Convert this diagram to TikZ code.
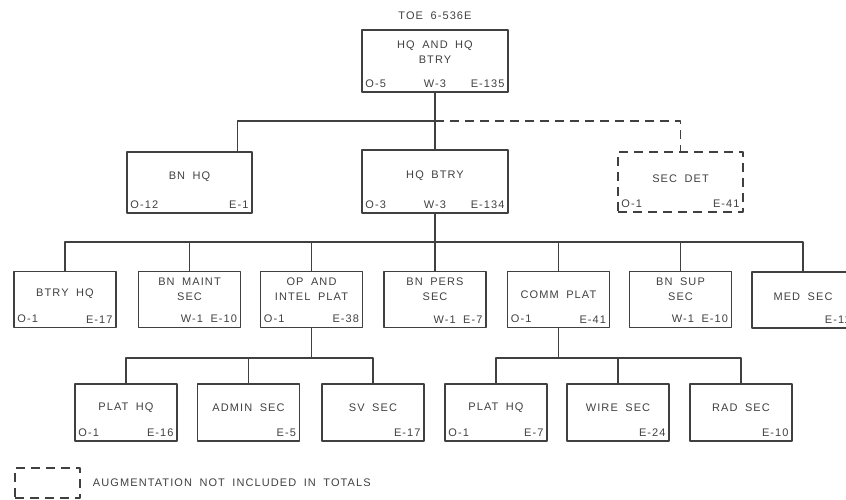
\documentclass[tikz,border=0pt]{standalone}
\usepackage{fontspec}
\newfontfamily\orgfont[LetterSpace=10,WordSpace=1.8]{Liberation Sans}
\colorlet{ink}{black!75}
\begin{document}
\begin{tikzpicture}[x=1pt,y=-1pt,line join=round,font=\orgfont\fontsize{11}{15}\selectfont,
	box/.style={draw=ink,line width=1.5pt,inner sep=0pt,minimum width=102pt,minimum height=56pt},
	big/.style={box,minimum width=146pt,minimum height=62pt},
	mid/.style={box,minimum width=125pt,minimum height=61pt},
	aug/.style={dash pattern=on 9pt off 6pt},
	link/.style={draw=ink,line width=1.2pt},
	title/.style={align=center,text=ink,inner sep=1pt},
	nl/.style={anchor=south west,text=ink,inner xsep=4pt,inner ysep=5pt},
	nr/.style={anchor=south east,text=ink,inner xsep=4pt,inner ysep=5pt},
	nm/.style={anchor=south,text=ink,inner xsep=4pt,inner ysep=5pt}]
	\useasboundingbox (0,0) rectangle (846,500);
	% top
	\node[title] (toe) at (435,16) {TOE 6-536E};
	\node[big] (hqhqbtry) at (435,61) {};
	\node[title] (hqhqbtry-t) at ([yshift=8.5pt]hqhqbtry.center) {HQ AND HQ\\BTRY};
	\node[nl] (hqhqbtry-o) at (hqhqbtry.south west) {O-5};
	\node[nm] (hqhqbtry-w) at (hqhqbtry.south) {W-3};
	\node[nr] (hqhqbtry-e) at (hqhqbtry.south east) {E-135};
	% second level
	\node[mid] (bnhq) at (189.5,182.5) {};
	\node[title] (bnhq-t) at ([yshift=6pt]bnhq.center) {BN HQ};
	\node[nl] (bnhq-o) at (bnhq.south west) {O-12};
	\node[nr] (bnhq-e) at (bnhq.south east) {E-1};
	\node[big,minimum height=63pt] (hqbtry) at (435,181.5) {};
	\node[title] (hqbtry-t) at ([yshift=6pt]hqbtry.center) {HQ BTRY};
	\node[nl] (hqbtry-o) at (hqbtry.south west) {O-3};
	\node[nm] (hqbtry-w) at (hqbtry.south) {W-3};
	\node[nr] (hqbtry-e) at (hqbtry.south east) {E-134};
	\node[mid,aug,minimum height=60pt] (secdet) at (680.5,182) {};
	\node[title] (secdet-t) at ([yshift=3pt]secdet.center) {SEC DET};
	\node[nl] (secdet-o) at (secdet.south west) {O-1};
	\node[nr] (secdet-e) at (secdet.south east) {E-41};
	% third level
	\node[box] (btryhq) at (65,299.5) {};
	\node[title] (btryhq-t) at ([yshift=6pt]btryhq.center) {BTRY HQ};
	\node[nl] (btryhq-o) at (btryhq.south west) {O-1};
	\node[nr] (btryhq-e) at (btryhq.south east) {E-17};
	\node[box] (bnmaint) at (189.5,299.5) {};
	\node[title] (bnmaint-t) at ([yshift=10pt]bnmaint.center) {BN MAINT\\SEC};
	\node[nr] (bnmaint-e) at (bnmaint.south east) {W-1 E-10};
	\node[box] (opintel) at (311.5,299.5) {};
	\node[title] (opintel-t) at ([yshift=10pt]opintel.center) {OP AND\\INTEL PLAT};
	\node[nl] (opintel-o) at (opintel.south west) {O-1};
	\node[nr] (opintel-e) at (opintel.south east) {E-38};
	\node[box] (bnpers) at (435,299.5) {};
	\node[title] (bnpers-t) at ([yshift=10pt]bnpers.center) {BN PERS\\SEC};
	\node[nr] (bnpers-e) at (bnpers.south east) {W-1 E-7};
	\node[box] (comm) at (558.5,299.5) {};
	\node[title] (comm-t) at ([yshift=5pt]comm.center) {COMM PLAT};
	\node[nl] (comm-o) at (comm.south west) {O-1};
	\node[nr] (comm-e) at (comm.south east) {E-41};
	\node[box] (bnsup) at (680.5,299.5) {};
	\node[title] (bnsup-t) at ([yshift=10pt]bnsup.center) {BN SUP\\SEC};
	\node[nr] (bnsup-e) at (bnsup.south east) {W-1 E-10};
	\node[box] (medsec) at (803,300) {};
	\node[title] (medsec-t) at ([yshift=3pt]medsec.center) {MED SEC};
	\node[nr] (medsec-e) at (medsec.south east) {E-11};
	% fourth level
	\node[box,minimum height=57pt] (plathq) at (126,412.5) {};
	\node[title] (plathq-t) at ([yshift=4.5pt]plathq.center) {PLAT HQ};
	\node[nl] (plathq-o) at (plathq.south west) {O-1};
	\node[nr] (plathq-e) at (plathq.south east) {E-16};
	\node[box,minimum height=57pt] (adminsec) at (248.5,412.5) {};
	\node[title] (adminsec-t) at ([yshift=4.5pt]adminsec.center) {ADMIN SEC};
	\node[nr] (adminsec-e) at (adminsec.south east) {E-5};
	\node[box,minimum height=57pt] (svsec) at (373,412.5) {};
	\node[title] (svsec-t) at ([yshift=4.5pt]svsec.center) {SV SEC};
	\node[nr] (svsec-e) at (svsec.south east) {E-17};
	\node[box,minimum height=57pt] (cplathq) at (496,412.5) {};
	\node[title] (cplathq-t) at ([yshift=4.5pt]cplathq.center) {PLAT HQ};
	\node[nl] (cplathq-o) at (cplathq.south west) {O-1};
	\node[nr] (cplathq-e) at (cplathq.south east) {E-7};
	\node[box,minimum height=57pt] (wiresec) at (618,412.5) {};
	\node[title] (wiresec-t) at ([yshift=4.5pt]wiresec.center) {WIRE SEC};
	\node[nr] (wiresec-e) at (wiresec.south east) {E-24};
	\node[box,minimum height=57pt] (radsec) at (741,412.5) {};
	\node[title] (radsec-t) at ([yshift=4.5pt]radsec.center) {RAD SEC};
	\node[nr] (radsec-e) at (radsec.south east) {E-10};
	% connectors
	\coordinate (busa) at (435,121);
	\coordinate (busb) at (435,242);
	\coordinate (busc) at (311.5,358);
	\coordinate (busd) at (558.5,358);
	\draw[link] (hqhqbtry.south) -- (busa) -| ([xshift=-15pt]bnhq.north east);
	\draw[link] (busa) -- (hqbtry.north);
	\draw[link,aug] (busa) -| (secdet.north);
	\draw[link] (hqbtry.south) -- (busb);
	\draw[link] (btryhq.north) |- (busb) -| (medsec.north);
	\foreach \n in {bnmaint,opintel,bnpers,comm,bnsup}
		\draw[link] (\n.north) -- (\n.north |- busb);
	\draw[link] (opintel.south) -- (busc);
	\draw[link] (plathq.north) |- (busc) -| (svsec.north);
	\draw[link] (adminsec.north) -- (adminsec.north |- busc);
	\draw[link] (comm.south) -- (busd);
	\draw[link] (cplathq.north) |- (busd) -| (radsec.north);
	\draw[link] (wiresec.north) -- (wiresec.north |- busd);
	% legend
	\node[box,aug,minimum width=65pt,minimum height=30pt] (legbox) at (47.5,483) {};
	\node[title,anchor=west] (legtext) at ([xshift=11pt]legbox.east) {AUGMENTATION NOT INCLUDED IN TOTALS};
\end{tikzpicture}
\end{document}
